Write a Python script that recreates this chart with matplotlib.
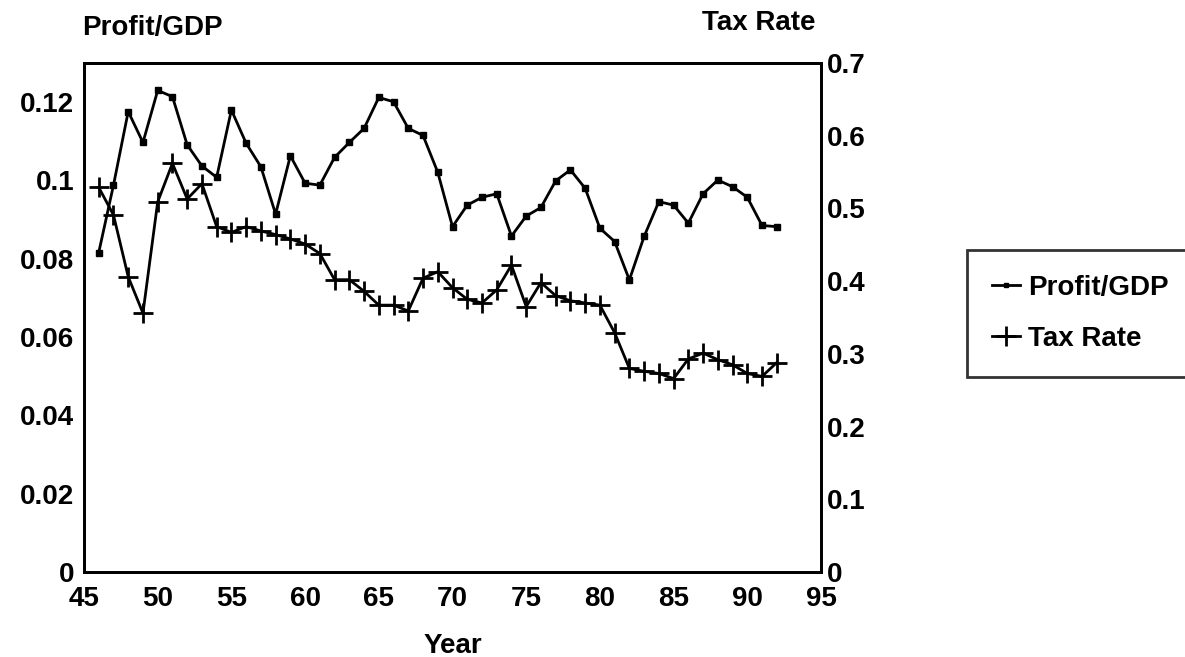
import matplotlib.pyplot as plt
from matplotlib.lines import Line2D

plt.rcParams['font.family'] = ['Liberation Sans', 'DejaVu Sans']
plt.rcParams['font.weight'] = 'bold'

years = list(range(46, 93))

profit_gdp = [0.0816, 0.0988, 0.1176, 0.1097, 0.1230, 0.1214, 0.1091, 0.1037, 0.1008, 0.1180,
              0.1095, 0.1035, 0.0914, 0.1063, 0.0993, 0.0988, 0.1059, 0.1097, 0.1133, 0.1212,
              0.1201, 0.1133, 0.1115, 0.1021, 0.0882, 0.0937, 0.0957, 0.0966, 0.0858, 0.0909,
              0.0931, 0.0999, 0.1027, 0.0980, 0.0878, 0.0844, 0.0746, 0.0857, 0.0946, 0.0937,
              0.0891, 0.0966, 0.1001, 0.0984, 0.0957, 0.0885, 0.0882]

tax_rate = [0.529, 0.491, 0.406, 0.356, 0.509, 0.562, 0.513, 0.534, 0.475, 0.467,
            0.475, 0.469, 0.464, 0.458, 0.451, 0.438, 0.402, 0.402, 0.386, 0.367,
            0.367, 0.359, 0.404, 0.413, 0.391, 0.375, 0.370, 0.388, 0.422, 0.365,
            0.398, 0.380, 0.373, 0.370, 0.367, 0.329, 0.280, 0.276, 0.273, 0.266,
            0.293, 0.301, 0.292, 0.285, 0.273, 0.269, 0.288]

x_ticks = [45, 50, 55, 60, 65, 70, 75, 80, 85, 90, 95]
left_ticks = [0, 0.02, 0.04, 0.06, 0.08, 0.1, 0.12]
left_labels = ['0', '0.02', '0.04', '0.06', '0.08', '0.1', '0.12']
right_ticks = [0, 0.1, 0.2, 0.3, 0.4, 0.5, 0.6, 0.7]
right_labels = ['0', '0.1', '0.2', '0.3', '0.4', '0.5', '0.6', '0.7']

W, H = 1185, 657
fig = plt.figure(figsize=(W / 100, H / 100), dpi=100)

# axes frame in pixel units
left, right, top, bottom = 84, 821, 63, 572
ax = fig.add_axes([left / W, 1 - bottom / H, (right - left) / W, (bottom - top) / H])
ax2 = ax.twinx()

ax.plot(years, profit_gdp, color='black', linewidth=2, marker='s', markersize=4.5)
ax2.plot(years, tax_rate, color='black', linewidth=2, marker='+', markersize=15, markeredgewidth=2)

ax.set_xlim(45, 95)
ax.set_ylim(0, 0.13)
ax2.set_ylim(0, 0.7)

ax.set_xticks(x_ticks)
ax.set_xticklabels([str(t) for t in x_ticks])
ax.set_yticks(left_ticks)
ax.set_yticklabels(left_labels)
ax2.set_yticks(right_ticks)
ax2.set_yticklabels(right_labels)

ax.tick_params(axis='y', length=0, labelsize=20, pad=7)
ax.tick_params(axis='x', length=0, labelsize=20, pad=10)
ax2.tick_params(axis='y', length=0, labelsize=20, pad=4)
for a in (ax, ax2):
    for s in a.spines.values():
        s.set_linewidth(2)

ax.set_xlabel('Year', fontsize=20, fontweight='bold', labelpad=15)

fig.text(82 / W, 1 - 28 / H, 'Profit/GDP', fontsize=20, ha='left', va='center')
fig.text(815 / W, 1 - 23 / H, 'Tax Rate', fontsize=20, ha='right', va='center')

handles = [Line2D([], [], color='black', linewidth=2, marker='s', markersize=3.5),
           Line2D([], [], color='black', linewidth=2, marker='+', markersize=15, markeredgewidth=2)]
leg = fig.legend(handles, ['Profit/GDP', 'Tax Rate'], loc='upper left',
                 bbox_to_anchor=(967 / W, 1 - 250 / H), borderaxespad=0, fontsize=20,
                 frameon=True, fancybox=False, edgecolor='black', handlelength=1.0,
                 handletextpad=0.3, labelspacing=0.9, borderpad=0.9)
leg.get_frame().set_linewidth(2)

fig.savefig('out.png', dpi=100)
